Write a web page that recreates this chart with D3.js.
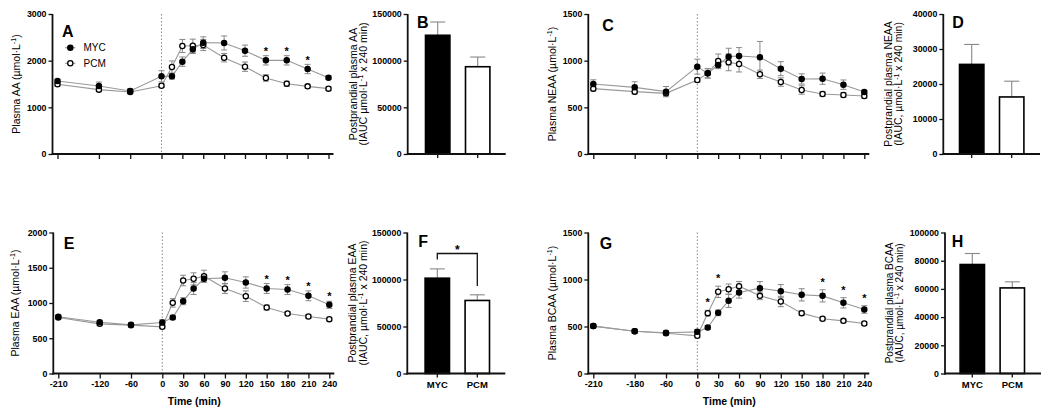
<!DOCTYPE html>
<html><head><meta charset="utf-8">
<script src="https://cdn.jsdelivr.net/npm/d3@7"></script>
<style>
body{margin:0;background:#fff}
text{font-family:"Liberation Sans",Arial,sans-serif;fill:#000}
</style>
</head><body><svg id="c" width="1050" height="415"></svg>
<script>
// ---------- data ----------
const times = [-210,-120,-60,0,15,30,45,60,90,120,150,180,210,240];
const xTickValues = [-210,-120,-60,0,30,60,90,120,150,180,210,240];
const xTickLabelsE = ["-210","-120","-60","0","30","60","90","120","150","180","210","240"];
const xTickLabelsG = ["-210","-180","-60","0","30","60","90","120","150","180","210","240"];
const groups = ["MYC","PCM"];

const aaMyc    = [1564,1457,1350,1664,1664,1979,2243,2386,2379,2214,2007,2007,1821,1636];
const aaMycErr = [35,85,50,120,60,100,90,125,150,120,100,100,100,40];
const aaPcm    = [1493,1379,1329,1464,1864,2314,2321,2336,2064,1871,1629,1507,1450,1400];
const aaPcmErr = [40,40,40,40,130,140,140,120,90,100,70,55,40,40];
const aaStars  = [150,180,210];

const neaaMyc    = [750,714,668,936,864,954,1043,1050,1036,914,804,807,743,664];
const neaaMycErr = [45,60,55,80,50,40,90,90,170,75,55,60,50,20];
const neaaPcm    = [700,668,650,793,864,996,982,964,854,771,686,643,632,621];
const neaaPcmErr = [25,25,25,25,50,75,90,85,45,45,45,25,25,25];
const neaaStars  = [];

const eaaMyc    = [804,728,690,723,794,1026,1206,1343,1357,1291,1206,1191,1102,974];
const eaaMycErr = [25,25,25,40,30,50,85,50,85,80,70,70,70,50];
const eaaPcm    = [794,704,686,662,1002,1319,1343,1380,1206,1097,936,851,808,771];
const eaaPcmErr = [25,25,25,25,60,75,85,85,70,75,35,25,25,25];
const eaaStars  = [150,180,210,240];

const bcaaMyc    = [504,450,433,443,489,645,773,862,908,876,837,826,752,681];
const bcaaMycErr = [20,20,20,25,20,30,70,60,70,70,65,65,55,40];
const bcaaPcm    = [504,450,429,401,642,869,897,929,826,766,642,582,560,532];
const bcaaPcmErr = [20,20,20,20,30,60,55,50,40,55,25,20,20,20];
const bcaaStars  = [15,30,180,210,240];

const aaAuc = [127200,93500],  aaAucErr = [14200,10400];
const neaaAuc = [25600,16300], neaaAucErr = [5700,4500];
const eaaAuc = [101400,77700], eaaAucErr = [9900,6000];
const bcaaAuc = [77300,60700], bcaaAucErr = [7800,4300];

// ---------- drawing ----------
const svg = d3.select("#c");
const AX_W = 1.8;

function styleAxis(g, fs){
  g.select(".domain").remove();
  g.selectAll(".tick line").attr("stroke","#111").attr("stroke-width",1.3);
  g.selectAll(".tick text").attr("font-size",fs).attr("font-weight","bold").attr("fill","#000");
}

function yTitle(g, x, cy, parts, fs){
  const t = g.append("text").attr("transform",`translate(${x},${cy}) rotate(-90)`)
    .attr("text-anchor","middle").attr("font-size",fs).attr("y",fs*0.35);
  let pending = 0;
  parts.forEach(p=>{
    if(p.sup){
      const sh = fs*0.38;
      t.append("tspan").attr("font-size",fs*0.68).attr("dy",(-sh)+"px").text(p.t);
      pending = sh;
    } else {
      const ts = t.append("tspan").text(p.t);
      if(pending){ ts.attr("dy",pending+"px"); pending=0; }
    }
  });
  return t;
}

function linePanel(c){
  const g = svg.append("g");
  const ax = c.ax, top=c.top, bottom=c.bottom;
  const y = d3.scaleLinear().domain([0,c.yMax]).range([bottom,top]);
  const x = d3.scaleLinear().domain([-210,-120,-60,0,240]).range([ax+5,ax+46.4,ax+77.7,ax+109,ax+276]);
  g.append("line").attr("x1",x(0)).attr("x2",x(0)).attr("y1",top).attr("y2",bottom)
    .attr("stroke","#888").attr("stroke-width",1).attr("stroke-dasharray","1.5,2");
  const series = [{v:c.pcm,e:c.pcmErr,fill:"#fff"},{v:c.myc,e:c.mycErr,fill:"#000"}];
  const line = d3.line().x((d,i)=>x(times[i])).y(d=>y(d));
  series.forEach(s=>{
    g.append("path").attr("d",line(s.v)).attr("fill","none").attr("stroke","#999").attr("stroke-width",1.1);
  });
  series.forEach(s=>{
    s.v.forEach((v,i)=>{
      const xx = x(times[i]);
      g.append("line").attr("x1",xx).attr("x2",xx).attr("y1",y(v-s.e[i])).attr("y2",y(v+s.e[i]))
        .attr("stroke","#888").attr("stroke-width",1);
      [v-s.e[i], v+s.e[i]].forEach(w=>{
        g.append("line").attr("x1",xx-3).attr("x2",xx+3).attr("y1",y(w)).attr("y2",y(w))
          .attr("stroke","#888").attr("stroke-width",1);
      });
    });
  });
  series.forEach(s=>{
    g.selectAll(null).data(s.v).enter().append("circle")
      .attr("cx",(d,i)=>x(times[i])).attr("cy",d=>y(d)).attr("r",2.6)
      .attr("fill",s.fill).attr("stroke","#000").attr("stroke-width",1.3);
  });
  c.stars.forEach(t=>{
    const i = times.indexOf(t);
    const topv = Math.max(c.myc[i]+c.mycErr[i], c.pcm[i]+c.pcmErr[i]);
    g.append("text").attr("x",x(t)).attr("y",y(topv)-c.starGap+5.5).attr("text-anchor","middle")
      .attr("font-size",11).attr("font-weight","bold").text("*");
  });
  const ya = g.append("g").attr("transform",`translate(${ax},0)`)
    .call(d3.axisLeft(y).tickValues(c.yTicks).tickSize(4).tickPadding(2).tickFormat(d3.format("d")));
  styleAxis(ya, 8.8);
  const xa = g.append("g").attr("transform",`translate(0,${bottom})`)
    .call(d3.axisBottom(x).tickValues(xTickValues).tickSize(5).tickPadding(2)
      .tickFormat((d,i)=> c.tickLabels ? c.tickLabels[i] : ""));
  styleAxis(xa, 9);
  g.append("line").attr("x1",ax).attr("x2",ax).attr("y1",top).attr("y2",bottom+0.9).attr("stroke","#111").attr("stroke-width",AX_W);
  g.append("line").attr("x1",ax-0.9).attr("x2",ax+281).attr("y1",bottom).attr("y2",bottom).attr("stroke","#111").attr("stroke-width",AX_W);
  if(c.tickLabels){
    g.append("text").attr("x",ax+141).attr("y",bottom+31.5).attr("text-anchor","middle")
      .attr("font-size",10.5).attr("font-weight","bold").text("Time (min)");
  }
  yTitle(g, ax+c.titleDx, (top+bottom)/2, [{t:c.title+" (\u00b5mol\u00b7L"},{t:"-1",sup:true},{t:")"}], 10.5);
  g.append("text").attr("x",ax+c.labelDx).attr("y",top+c.labelDy).attr("font-size",16).attr("font-weight","bold").text(c.label);
  return {g,x,y};
}

function barPanel(c){
  const g = svg.append("g");
  const ax=c.ax, top=c.top, bottom=c.bottom;
  const y = d3.scaleLinear().domain([0,c.yMax]).range([bottom,top]);
  const x = d3.scaleBand().domain(groups).range([ax+c.bandStart, ax+c.bandStart+80]).paddingInner(0.35).paddingOuter(0.175);
  const fills = ["#000","#fff"];
  groups.forEach((k,i)=>{
    const cx = x(k)+x.bandwidth()/2;
    const et = y(c.v[i]+c.e[i]);
    g.append("line").attr("x1",cx).attr("x2",cx).attr("y1",y(c.v[i])).attr("y2",et).attr("stroke","#888").attr("stroke-width",1.1);
    g.append("line").attr("x1",cx-7.5).attr("x2",cx+7.5).attr("y1",et).attr("y2",et).attr("stroke","#888").attr("stroke-width",1.1);
    g.append("rect").attr("x",x(k)+0.8).attr("y",y(c.v[i])).attr("width",x.bandwidth()-1.6).attr("height",bottom-y(c.v[i]))
      .attr("fill",fills[i]).attr("stroke","#000").attr("stroke-width",1.6);
  });
  const ya = g.append("g").attr("transform",`translate(${ax},0)`)
    .call(d3.axisLeft(y).tickValues(c.yTicks).tickSize(4).tickPadding(2).tickFormat(d3.format("d")));
  styleAxis(ya, 8.8);
  const xa = g.append("g").attr("transform",`translate(0,${bottom})`)
    .call(d3.axisBottom(x).tickSize(4).tickPadding(3.5).tickFormat(d=> c.showX ? d : ""));
  styleAxis(xa, 9.5);
  g.append("line").attr("x1",ax).attr("x2",ax).attr("y1",top).attr("y2",bottom+0.9).attr("stroke","#111").attr("stroke-width",AX_W);
  g.append("line").attr("x1",ax-0.9).attr("x2",ax+c.xLen).attr("y1",bottom).attr("y2",bottom).attr("stroke","#111").attr("stroke-width",AX_W);
  const cy=(top+bottom)/2;
  yTitle(g, ax+c.t1dx, cy, [{t:c.title1}], c.tfs);
  yTitle(g, ax+c.t2dx, cy, [{t:c.title2a},{t:"-1",sup:true},{t:" x 240 min)"}], c.tfs);
  g.append("text").attr("x",ax+c.labelDx).attr("y",top+c.labelDy).attr("font-size",16).attr("font-weight","bold").text(c.label);
  if(c.sig){
    const c0 = x("MYC")+x.bandwidth()/2, c1 = x("PCM")+x.bandwidth()/2;
    const l = y(c.v[0]+c.e[0])-9.4, r = y(c.v[1]+c.e[1])-8.7, tp = l-6;
    g.append("path").attr("d",`M${c0},${l}V${tp}H${c1}V${r}`).attr("fill","none").attr("stroke","#111").attr("stroke-width",1.3);
    g.append("text").attr("x",(c0+c1)/2).attr("y",tp+1).attr("text-anchor","middle").attr("font-size",12).attr("font-weight","bold").text("*");
  }
}

const T1=14,B1=154,T2=232.5,B2=373.5;

const pA = linePanel({ax:52.5,top:T1,bottom:B1,yMax:3000,yTicks:[0,1000,2000,3000],myc:aaMyc,mycErr:aaMycErr,pcm:aaPcm,pcmErr:aaPcmErr,
  stars:aaStars,starGap:6,title:"Plasma AA",titleDx:-36,label:"A",labelDx:9.5,labelDy:22.5,tickLabels:null});
linePanel({ax:588.3,top:T1,bottom:B1,yMax:1500,yTicks:[0,500,1000,1500],myc:neaaMyc,mycErr:neaaMycErr,pcm:neaaPcm,pcmErr:neaaPcmErr,
  stars:neaaStars,starGap:6,title:"Plasma NEAA",titleDx:-35.6,label:"C",labelDx:14,labelDy:16.5,tickLabels:null});
linePanel({ax:53.3,top:T2,bottom:B2,yMax:2000,yTicks:[0,500,1000,1500,2000],myc:eaaMyc,mycErr:eaaMycErr,pcm:eaaPcm,pcmErr:eaaPcmErr,
  stars:eaaStars,starGap:6.5,title:"Plasma EAA",titleDx:-38,label:"E",labelDx:10.5,labelDy:16,tickLabels:xTickLabelsE});
linePanel({ax:588.3,top:T2,bottom:B2,yMax:1500,yTicks:[0,500,1000,1500],myc:bcaaMyc,mycErr:bcaaMycErr,pcm:bcaaPcm,pcmErr:bcaaPcmErr,
  stars:bcaaStars,starGap:9.5,title:"Plasma BCAA",titleDx:-35.6,label:"G",labelDx:11.5,labelDy:16,tickLabels:xTickLabelsG});

[{k:"MYC",f:"#000",y:47.7},{k:"PCM",f:"#fff",y:63.3}].forEach(d=>{
  const g=pA.g;
  g.append("line").attr("x1",65).attr("x2",75.5).attr("y1",d.y).attr("y2",d.y).attr("stroke","#999").attr("stroke-width",1.1);
  g.append("circle").attr("cx",70.3).attr("cy",d.y).attr("r",2.6).attr("fill",d.f).attr("stroke","#000").attr("stroke-width",1.3);
  g.append("text").attr("x",83.5).attr("y",d.y).attr("dy","0.35em").attr("font-size",10).text(d.k);
});

barPanel({ax:407.7,top:T1,bottom:B1,yMax:150000,yTicks:[0,50000,100000,150000],v:aaAuc,e:aaAucErr,bandStart:10,xLen:98,tfs:10.6,
  title1:"Postprandial plasma AA",title2a:"(IAUC \u00b5mol\u00b7L",t1dx:-54.7,t2dx:-44.4,label:"B",labelDx:9.3,labelDy:14,showX:false});
barPanel({ax:943.3,top:T1,bottom:B1,yMax:40000,yTicks:[0,10000,20000,30000,40000],v:neaaAuc,e:neaaAucErr,bandStart:8.4,xLen:96.7,tfs:10.4,
  title1:"Postprandial plasma NEAA",title2a:"(IAUC, \u00b5mol\u00b7L",t1dx:-54.5,t2dx:-44.5,label:"D",labelDx:9,labelDy:14,showX:false});
barPanel({ax:407.3,top:T2,bottom:B2,yMax:150000,yTicks:[0,50000,100000,150000],v:eaaAuc,e:eaaAucErr,bandStart:10,xLen:98,tfs:10.5,
  title1:"Postprandial plasma EAA",title2a:"(IAUC, \u00b5mol\u00b7L",t1dx:-54.5,t2dx:-44,label:"F",labelDx:11,labelDy:14,showX:true,sig:true});
barPanel({ax:945,top:T2,bottom:B2,yMax:100000,yTicks:[0,20000,40000,60000,80000,100000],v:bcaaAuc,e:bcaaAucErr,bandStart:7.3,xLen:96,tfs:10,
  title1:"Postprandial plasma BCAA",title2a:"(IAUC, \u00b5mol\u00b7L",t1dx:-56,t2dx:-46,label:"H",labelDx:6.7,labelDy:14,showX:true});
</script>
</body></html>
